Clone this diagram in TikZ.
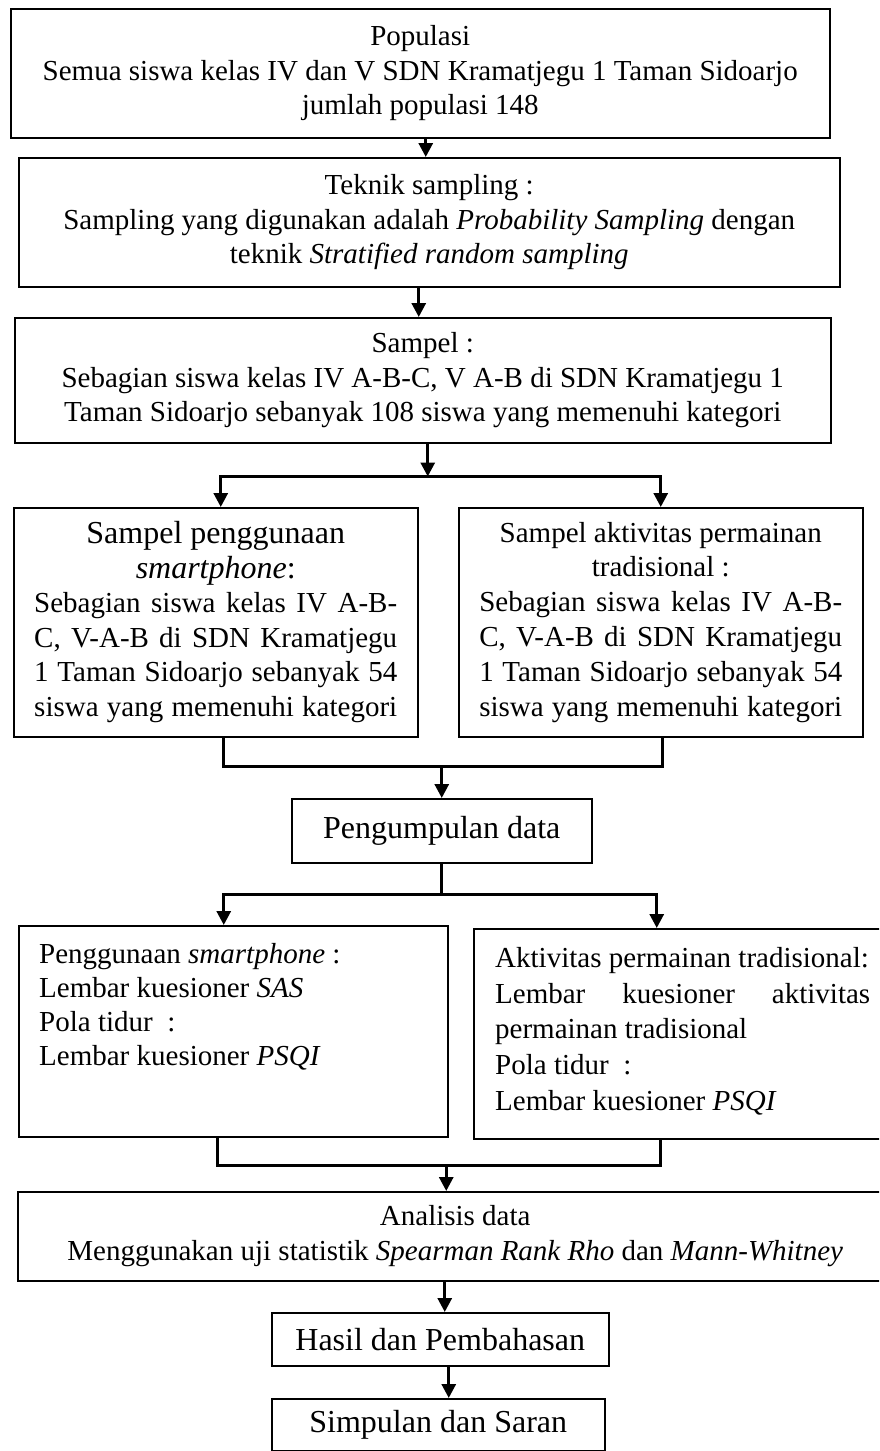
\documentclass[tikz,border=0pt]{standalone}
\usepackage{fontspec}
\setmainfont{Liberation Serif}
\usetikzlibrary{arrows.meta,calc}
\newcommand{\jl}[1]{\makebox[363pt][s]{#1}}
\newcommand{\jr}[1]{\makebox[375pt][s]{#1}}
\begin{document}
\begin{tikzpicture}[x=1pt,y=-1pt,
 box/.style={draw=black, line width=1.5pt, inner sep=0pt, anchor=north west},
 conn/.style={line width=3pt},
 arr/.style={line width=3pt, -{Triangle[length=14pt,width=14pt]}},
 body/.style={font=\fontsize{29}{34.5}\selectfont},
 big/.style={font=\fontsize{32}{34.5}\selectfont},
 txt/.style={inner sep=0pt, anchor=north west, align=left}]
\clip (0,0) rectangle (879,1451);
\fill[white] (0,0) rectangle (879,1451);

% boxes
\node[box, body, align=center, minimum width=819, minimum height=129] (pop) at (10,8)
 {Populasi\\Semua siswa kelas IV dan V SDN Kramatjegu 1 Taman Sidoarjo\\jumlah populasi 148};
\node[box, body, align=center, minimum width=821, minimum height=129] (tek) at (18,157)
 {Teknik sampling :\\Sampling yang digunakan adalah \textit{Probability Sampling} dengan\\teknik \textit{Stratified random sampling}};
\node[box, body, align=center, minimum width=816, minimum height=125] (sam) at (14,317)
 {Sampel :\\Sebagian siswa kelas IV A-B-C, V A-B di SDN Kramatjegu 1\\Taman Sidoarjo sebanyak 108 siswa yang memenuhi kategori};

\node[box, minimum width=404, minimum height=229] (s1) at (13,507)
 {\begin{minipage}{363pt}\centering
 {\fontsize{32}{34.5}\selectfont Sampel penggunaan\\ \textit{smartphone}:\par}
 \fontsize{29}{34.5}\selectfont
 \jl{Sebagian siswa kelas IV A-B-}\\
 \jl{C, V-A-B di SDN Kramatjegu}\\
 \jl{1 Taman Sidoarjo sebanyak 54}\\
 \jl{siswa yang memenuhi kategori}
 \end{minipage}};
\node[box, minimum width=404, minimum height=229] (s2) at (458,507)
 {\begin{minipage}{363pt}\centering
 \fontsize{29}{34.8}\selectfont
 Sampel aktivitas permainan\\
 tradisional :\\
 \jl{Sebagian siswa kelas IV A-B-}\\
 \jl{C, V-A-B di SDN Kramatjegu}\\
 \jl{1 Taman Sidoarjo sebanyak 54}\\
 \jl{siswa yang memenuhi kategori}
 \end{minipage}};

\node[box, big, minimum width=300, minimum height=64] (peng) at (291,798) {Pengumpulan data};

\node[box, minimum width=429, minimum height=211] (d1) at (18,925) {};
\node[txt, font=\fontsize{29}{34}\selectfont] (d1t) at (39,943)
 {Penggunaan \textit{smartphone} :\\Lembar kuesioner \textit{SAS}\\Pola tidur~ :\\Lembar kuesioner \textit{PSQI}};
\node[box, minimum width=420, minimum height=210] (d2) at (473,928) {};
\node[txt, font=\fontsize{29}{35.7}\selectfont] (d2t) at (495,947)
 {Aktivitas permainan tradisional:\\\jr{Lembar kuesioner aktivitas}\\permainan tradisional\\Pola tidur~ :\\Lembar kuesioner \textit{PSQI}};

\node[box, body, align=center, minimum width=875, minimum height=89] (ana) at (17,1191)
 {Analisis data\\Menggunakan uji statistik \textit{Spearman Rank Rho} dan \textit{Mann-Whitney}};
\node[box, big, minimum width=337, minimum height=53] (has) at (271,1312) {Hasil dan Pembahasan};
\node[box, big, minimum width=333, minimum height=52] (sim) at (271,1398) {Simpulan dan Saran};

% connectors
\draw[arr] ([xshift=5.5pt]pop.south) -- ([xshift=5.5pt]pop.south |- tek.north);
\draw[arr] ([xshift=-10.5pt]tek.south) -- ([xshift=-10.5pt]tek.south |- sam.north);
\coordinate (bar1) at ($([xshift=5pt]sam.south)+(0,33)$);
\draw[arr] ([xshift=5pt]sam.south) -- (bar1);
\draw[arr] (bar1) -| ([xshift=5pt]s1.north);
\draw[arr] (bar1) -| (s2.north);

\draw[conn] ([xshift=8pt]s1.south) -- ++(0,29) coordinate (bar2a) -| ([xshift=2pt]s2.south);
\coordinate (bar2) at (peng.north |- bar2a);
\draw[arr] (bar2) -- (peng.north);

\draw[conn] (peng.south) -- ++(0,31) coordinate (bar3);
\draw[arr] (bar3) -| ([xshift=-9.5pt]d1.north);
\draw[arr] (bar3) -| ([xshift=-27pt]d2.north);

\draw[conn] ([xshift=-15.5pt]d1.south) -- ++(0,28) coordinate (bar4a) -| ([xshift=-23pt]d2.south);
\coordinate (bar4) at ([xshift=6pt]has.north |- bar4a);
\draw[arr] (bar4) -- (bar4 |- ana.north);

\draw[arr] ([xshift=4.5pt]has.north |- ana.south) -- ([xshift=4.5pt]has.north);
\draw[arr] ([xshift=8.5pt]has.south) -- ([xshift=8.5pt]has.south |- sim.north);
\end{tikzpicture}
\end{document}
